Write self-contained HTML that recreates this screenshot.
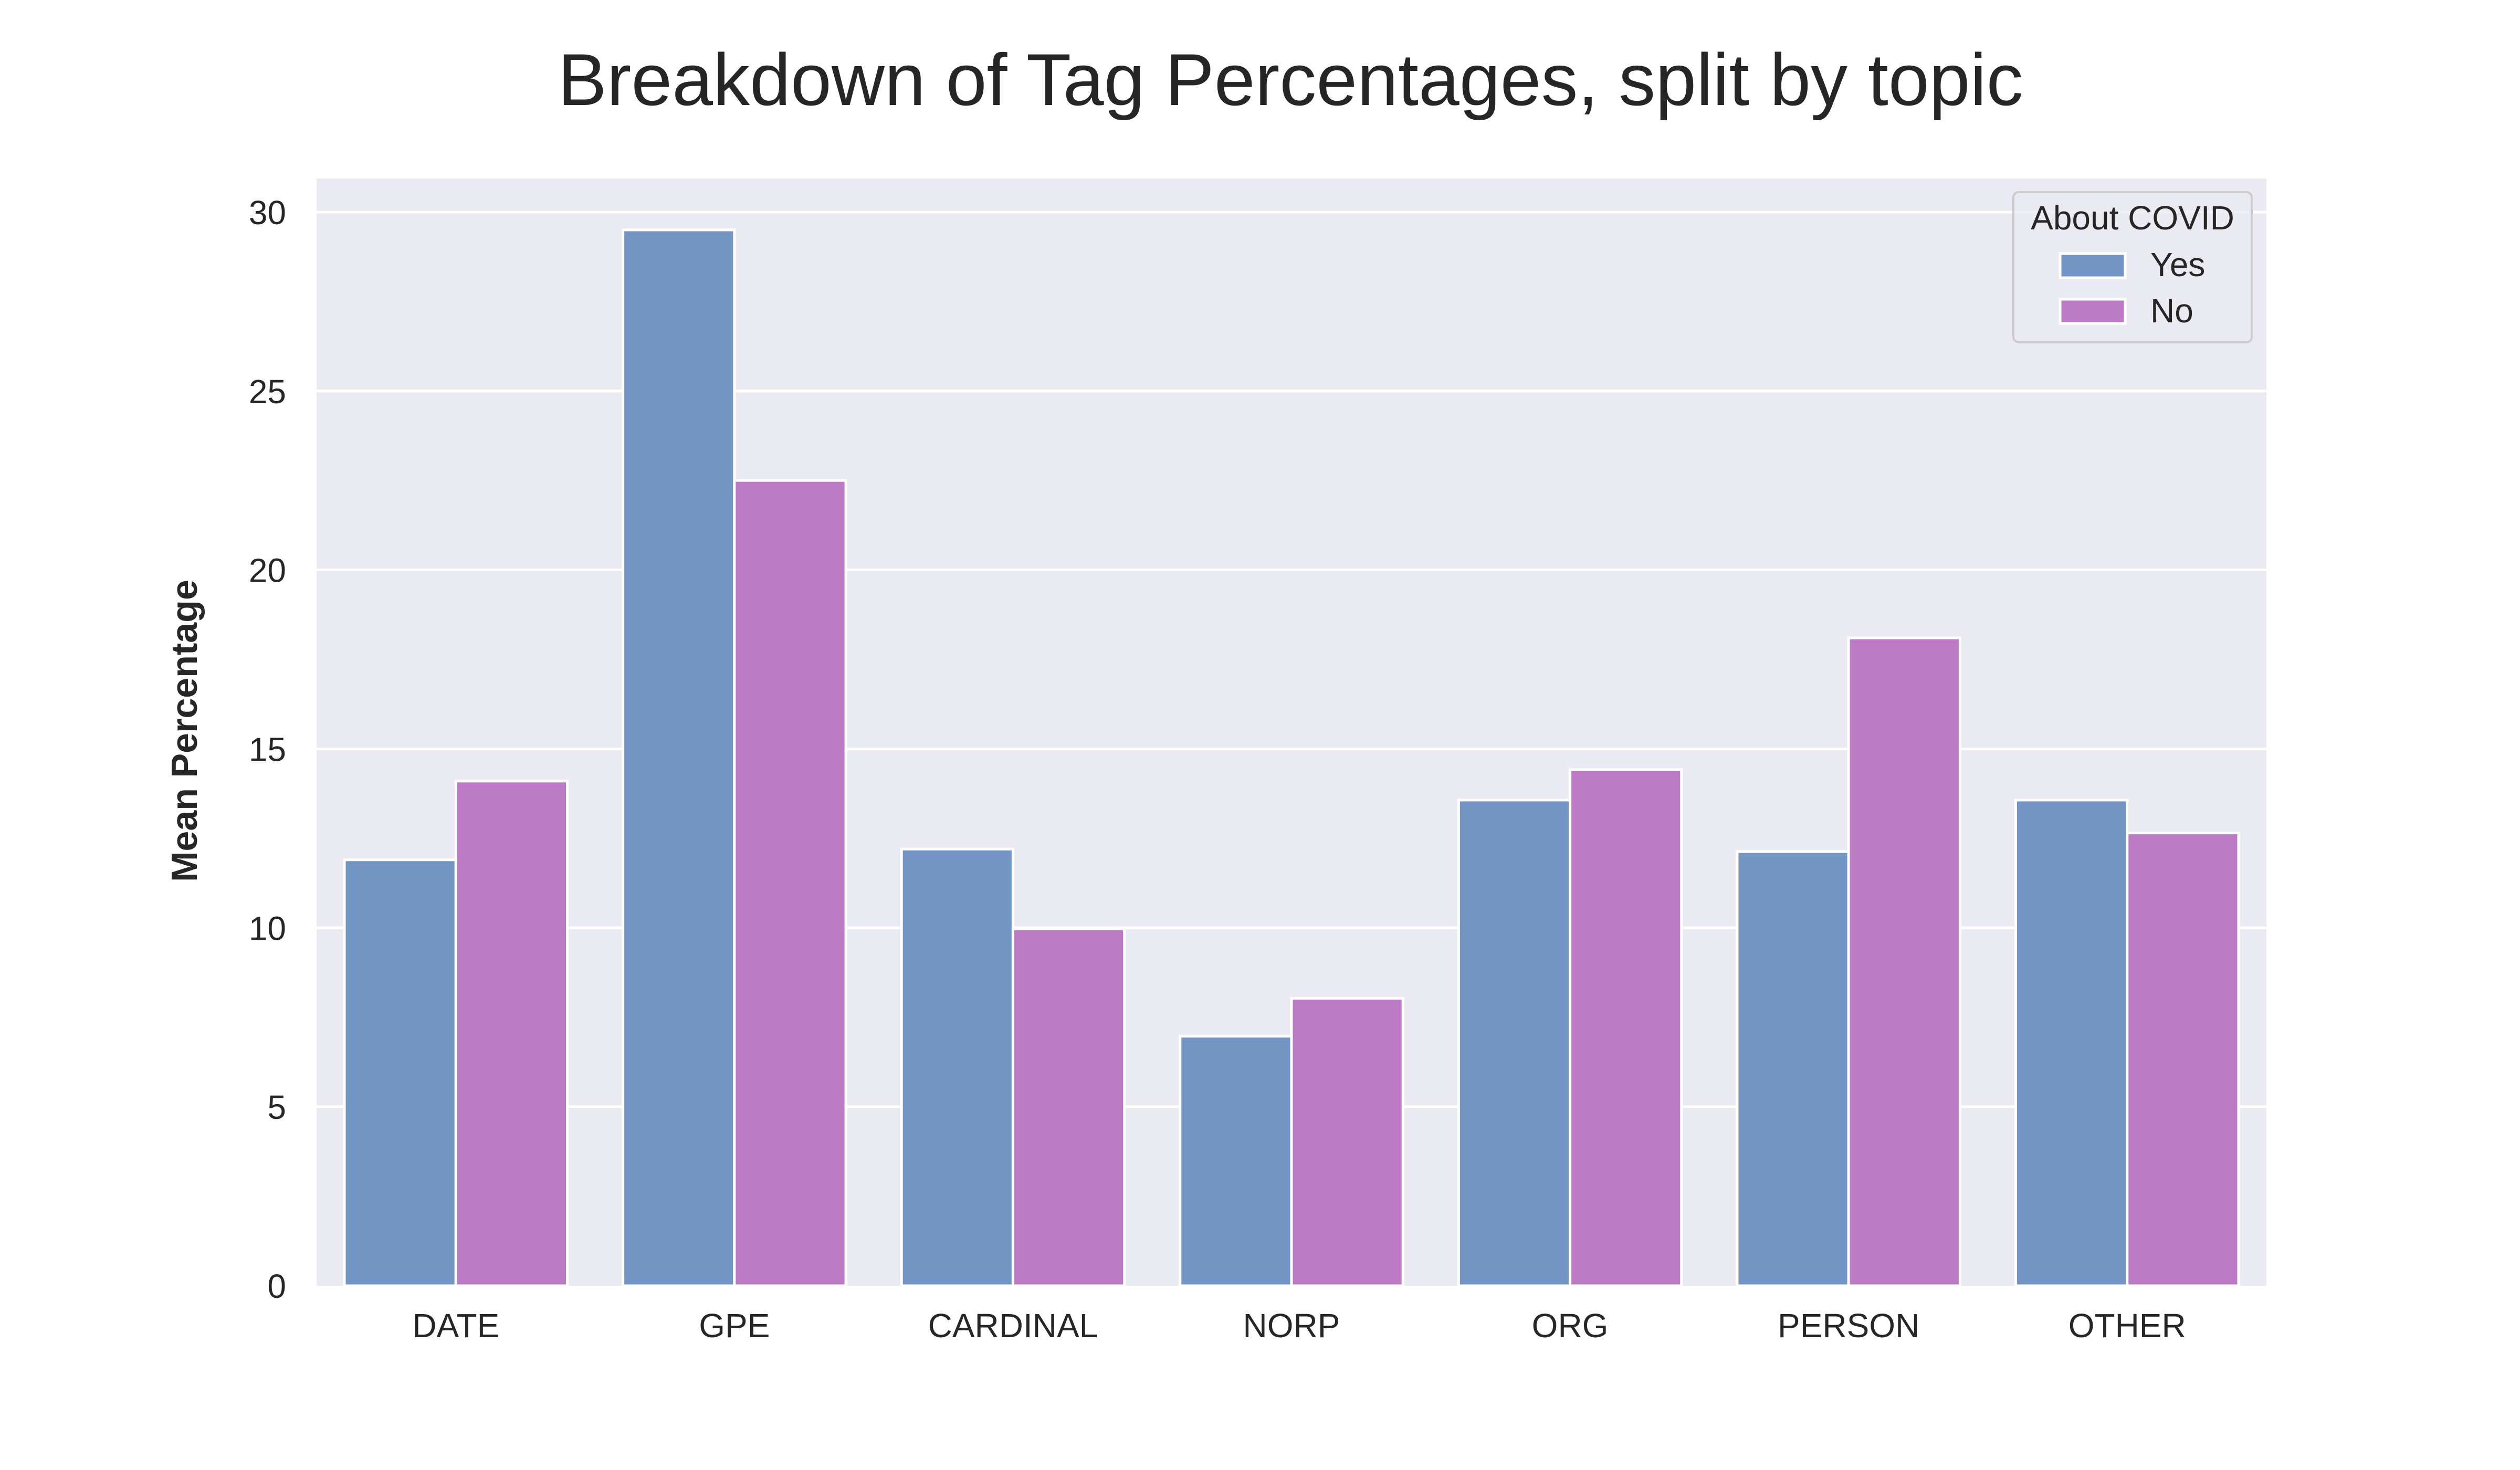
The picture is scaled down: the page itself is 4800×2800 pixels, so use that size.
<!DOCTYPE html>
<html><head><meta charset="utf-8"><style>
html,body{margin:0;padding:0;background:#fff;}
svg{display:block;font-family:"Liberation Sans",Arial,sans-serif;}
</style></head><body>
<svg id="chart" width="4800" height="2800" viewBox="0 0 4800 2800" xmlns="http://www.w3.org/2000/svg">
<rect x="0" y="0" width="4800" height="2800" fill="#fff"/>
<text x="2458" y="200" font-size="140" fill="#262626" text-anchor="middle">Breakdown of Tag Percentages, split by topic</text>
<rect x="603" y="340" width="3714" height="2109" fill="#EAEAF2"/>
<g id="grid"></g>
<g id="bars"></g>
<g id="yticks"></g>
<g id="xticks"></g>
<text transform="translate(375,1392) rotate(-90)" font-size="70" font-weight="bold" fill="#262626" text-anchor="middle">Mean Percentage</text>
<g>
<rect x="3835" y="366" width="454" height="286" rx="10" fill="#EAEAF2" fill-opacity="0.8" stroke="#cccccc" stroke-width="4"/>
<text x="4062" y="437" font-size="64" fill="#262626" text-anchor="middle">About COVID</text>
<rect x="3924" y="483" width="124" height="46" fill="#7395C4" stroke="#fff" stroke-width="5"/>
<text x="4096" y="526" font-size="64" fill="#262626">Yes</text>
<rect x="3924" y="570" width="124" height="46" fill="#BC79C4" stroke="#fff" stroke-width="5"/>
<text x="4096" y="614" font-size="64" fill="#262626">No</text>
</g>
</svg>
<script>
const categories = ["DATE","GPE","CARDINAL","NORP","ORG","PERSON","OTHER"];
const yesValues = [11.9, 29.5, 12.2, 6.97, 13.57, 12.13, 13.57];
const noValues = [14.1, 22.5, 9.97, 8.03, 14.42, 18.1, 12.65];
const yTickValues = [0,5,10,15,20,25,30];
const yTickLabels = ["0","5","10","15","20","25","30"];

const NS = "http://www.w3.org/2000/svg";
const AX_L = 603, AX_R = 4317, AX_B = 2449, UNIT = 68.17;
const band = (AX_R - AX_L) / categories.length;
function xCenter(i){ return AX_L + band * (i + 0.5); }
function yPos(v){ return AX_B - v * UNIT; }
function mk(tag, attrs, parent){
  const e = document.createElementNS(NS, tag);
  for (const k in attrs) e.setAttribute(k, attrs[k]);
  parent.appendChild(e);
  return e;
}
const grid = document.getElementById('grid');
const yt = document.getElementById('yticks');
yTickValues.forEach((v, i) => {
  const y = yPos(v);
  if (v > 0) {
    const l = mk('line', {x1: AX_L, x2: AX_R, y1: y, y2: y, stroke: '#fff', 'stroke-width': 5}, grid);
    
    
  }
  const t = mk('text', {x: 545, y: y + 23, 'font-size': 64, fill: '#262626', 'text-anchor': 'end'}, yt);
  t.textContent = yTickLabels[i];
  
  
});
const bars = document.getElementById('bars');
const xt = document.getElementById('xticks');
const bw = band * 0.4;
categories.forEach((c, i) => {
  const cx = xCenter(i);
  const by = yPos(yesValues[i]);
  const b1 = mk('rect', {x: cx - bw, y: by, width: bw, height: AX_B - by, fill: '#7395C4', stroke: '#fff', 'stroke-width': 5}, bars);
  
  
  const ny = yPos(noValues[i]);
  const b2 = mk('rect', {x: cx, y: ny, width: bw, height: AX_B - ny, fill: '#BC79C4', stroke: '#fff', 'stroke-width': 5}, bars);
  
  
  const t = mk('text', {x: cx, y: 2547, 'font-size': 64, fill: '#262626', 'text-anchor': 'middle'}, xt);
  t.textContent = c;
  
  
});
</script>
</body></html>
